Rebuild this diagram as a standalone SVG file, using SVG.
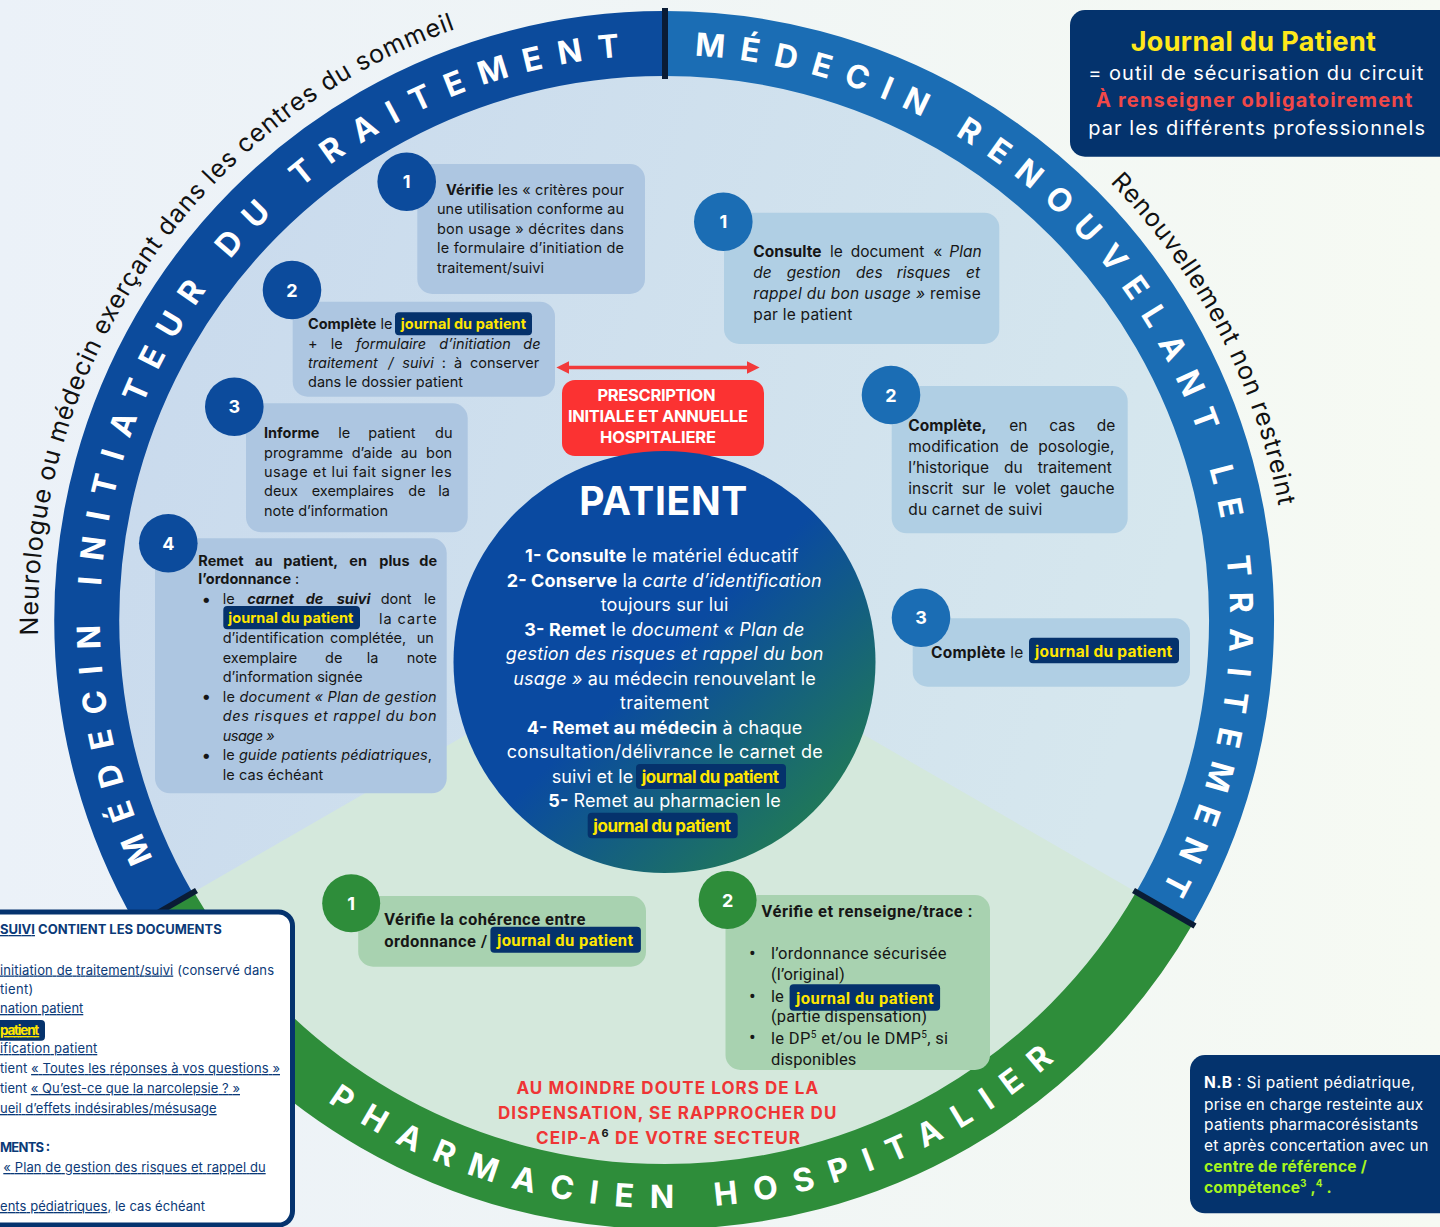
<svg xmlns="http://www.w3.org/2000/svg" width="1440" height="1227" viewBox="0 0 1440 1227">
<defs>
<linearGradient id="bgGrad" x1="0" y1="0" x2="1" y2="0">
<stop offset="0" stop-color="#ebf1f8"/><stop offset="1" stop-color="#f6faf3"/>
</linearGradient>
<linearGradient id="diskGrad" x1="0" y1="0" x2="1" y2="0.3">
<stop offset="0" stop-color="#c8d9ed"/><stop offset="1" stop-color="#d6e7ee"/>
</linearGradient>
<linearGradient id="patGrad" x1="0.3" y1="0.3" x2="0.92" y2="0.95">
<stop offset="0.3" stop-color="#0a4aa1"/><stop offset="1" stop-color="#24814b"/>
</linearGradient>
<marker id="ah" viewBox="0 0 10 10" refX="0" refY="5" markerWidth="3.6" markerHeight="4" orient="auto-start-reverse">
<path d="M0,0 L10,5 L0,10 z" fill="#f23a3a"/>
</marker>
<path id="pL" d="M 152.9 858.8 A 565 565 0 0 1 620.7 56.7"/>
<path id="pR" d="M 694.6 55.8 A 565 565 0 0 1 1161.5 889.6"/>
<path id="pB" d="M 327.7 1101.7 A 588 588 0 0 0 1054.6 1060.4"/>
<path id="pN" d="M 38.2 635.3 A 627 627 0 0 1 455.7 29"/>
<path id="pRn" d="M 1110 182.6 A 624 624 0 0 1 1278.6 506.3"/>
</defs>
<style>
.f{font-family:Inter,"Liberation Sans",Arial,sans-serif}
.r{font-family:Roboto,"Liberation Sans",Arial,sans-serif}
.b{font-weight:700}
.i{font-style:italic}
.u{text-decoration:underline}
.dk{fill:#161616}
.w{fill:#ffffff}
.y{fill:#ffe600;font-weight:700}
.pill{fill:#05326c}
.cl{fill:#adc6e1}
.cr{fill:#b0cfe4}
.cg{fill:#a8d2b0}
.bl{fill:#0c4b9c}
.br{fill:#1b6db4}
.bgc{fill:#2e8d3a}
.num{font-family:Inter,"Liberation Sans",Arial,sans-serif;font-weight:700;font-size:18px;fill:#fff;text-anchor:middle}
.s14{font-size:14.5px}
.s15{font-size:15.5px}
.ring{font-family:Inter,"Liberation Sans",Arial,sans-serif;font-weight:700;font-size:32px;fill:#fff}
.out{font-family:Inter,"Liberation Sans",Arial,sans-serif;font-size:25px;fill:#111}
.nv{fill:#0b3a78}
.sep{stroke:#0a1c35;stroke-width:6}
.bul{font-size:17px}
</style>

<rect x="0" y="0" width="1440" height="1227" fill="url(#bgGrad)"/>

<g id="disk">
<circle cx="665" cy="620" r="560" fill="url(#diskGrad)"/>
<path d="M 665 620 L 1150 900 A 560 560 0 0 1 180 900 Z" fill="#d4e8dc"/>
</g>

<g id="ring">
<path d="M 164.4 909 A 576.5 576.5 0 0 1 665 43.5" fill="none" stroke="#0c4b9c" stroke-width="65"/>
<path d="M 665 43.5 A 576.5 576.5 0 0 1 1164.3 908.3" fill="none" stroke="#1b6db4" stroke-width="65"/>
<path d="M 1164.3 908.3 A 576.5 576.5 0 0 1 165.7 908.3" fill="none" stroke="#2e8d3a" stroke-width="65"/>
<line class="sep" x1="665" y1="79" x2="665" y2="8"/>
<line class="sep" x1="196.5" y1="890.5" x2="135" y2="926"/>
<line class="sep" x1="1133.5" y1="890.5" x2="1195" y2="926"/>
<text class="ring"><textPath href="#pL" textLength="1089" lengthAdjust="spacing">MÉDECIN INITIATEUR DU TRAITEMENT</textPath></text>
<text class="ring"><textPath href="#pR" textLength="1138" lengthAdjust="spacing">MÉDECIN RENOUVELANT LE TRAITEMENT</textPath></text>
<text class="ring"><textPath href="#pB" textLength="785" lengthAdjust="spacing">PHARMACIEN HOSPITALIER</textPath></text>
</g>

<g id="outer-labels">
<text class="out"><textPath href="#pN" textLength="786" lengthAdjust="spacing">Neurologue ou médecin exerçant dans les centres du sommeil</textPath></text>
<text class="out"><textPath href="#pRn" textLength="370" lengthAdjust="spacing">Renouvellement non restreint</textPath></text>
</g>

<g id="connectors">
<line x1="569" y1="367.5" x2="747" y2="367.5" stroke="#f23a3a" stroke-width="3.5" marker-start="url(#ah)" marker-end="url(#ah)"/>
</g>

<g id="prescription">
<rect x="562" y="380" width="202" height="76" rx="13" fill="#fb3232"/>
<text class="f b w" font-size="16.5" x="597.5" y="400.7" textLength="118" lengthAdjust="spacing">PRESCRIPTION</text>
<text class="f b w" font-size="16.5" x="568" y="422.3" textLength="180" lengthAdjust="spacing">INITIALE ET ANNUELLE</text>
<text class="f b w" font-size="16.5" x="600" y="443.3" textLength="116" lengthAdjust="spacing">HOSPITALIERE</text>
</g>

<g id="init-1">
<rect class="cl" x="417.3" y="164" width="227.7" height="130" rx="15"/>
<circle class="bl" cx="406.7" cy="181.7" r="29.3"/>
<text class="num" x="406.7" y="188.2">1</text>
<g class="f s14 dk">
<text x="446" y="195" textLength="178" lengthAdjust="spacing"><tspan class="b">Vérifie</tspan> les « critères pour</text>
<text x="437" y="214.3" textLength="187" lengthAdjust="spacing">une utilisation conforme au</text>
<text x="437" y="234" textLength="187" lengthAdjust="spacing">bon usage » décrites dans</text>
<text x="437" y="253.3" textLength="187" lengthAdjust="spacing">le formulaire d’initiation de</text>
<text x="437" y="272.7" textLength="107" lengthAdjust="spacing">traitement/suivi</text>
</g>
</g>

<g id="init-2">
<rect class="cl" x="292.7" y="301.7" width="262.3" height="95" rx="15"/>
<circle class="bl" cx="292" cy="290" r="29.3"/>
<text class="num" x="292" y="296.5">2</text>
<g class="f s14 dk">
<text x="308" y="329"><tspan class="b">Complète</tspan> le</text>
<rect class="pill" x="395" y="312.3" width="137" height="23" rx="4"/>
<text class="y" x="400.7" y="329" textLength="125.3" lengthAdjust="spacing">journal du patient</text>
<text y="349"><tspan x="308">+</tspan><tspan x="330.7">le</tspan><tspan class="i" x="356">formulaire</tspan><tspan class="i" x="439.3">d’initiation</tspan><tspan class="i" x="523.3">de</tspan></text>
<text y="368.3"><tspan class="i" x="308">traitement</tspan><tspan class="i" x="388.3">/</tspan><tspan class="i" x="402.3">suivi</tspan><tspan x="441.7">:</tspan><tspan x="454">à</tspan><tspan x="470">conserver</tspan></text>
<text x="308" y="387" textLength="155" lengthAdjust="spacing">dans le dossier patient</text>
</g>
</g>

<g id="init-3">
<rect class="cl" x="246" y="403.3" width="221.7" height="129" rx="15"/>
<circle class="bl" cx="234.3" cy="406.7" r="29.3"/>
<text class="num" x="234.3" y="413.2">3</text>
<g class="f s14 dk">
<text y="438.3"><tspan class="b" x="264">Informe</tspan><tspan x="338.3">le</tspan><tspan x="368.3">patient</tspan><tspan x="435">du</tspan></text>
<text y="458.3"><tspan x="264">programme</tspan><tspan x="351.7">d’aide</tspan><tspan x="400.7">au</tspan><tspan x="426">bon</tspan></text>
<text x="264" y="477.3" textLength="187.7" lengthAdjust="spacing">usage et lui fait signer les</text>
<text y="496.3"><tspan x="264">deux</tspan><tspan x="311.7">exemplaires</tspan><tspan x="408.3">de</tspan><tspan x="438.3">la</tspan></text>
<text x="264" y="515.7" textLength="124" lengthAdjust="spacing">note d’information</text>
</g>
</g>

<g id="init-4">
<rect class="cl" x="155" y="538.3" width="291.7" height="255" rx="15"/>
<circle class="bl" cx="168.3" cy="543.3" r="29.3"/>
<text class="num" x="168.3" y="549.8">4</text>
<g class="f s14 dk">
<text class="b" y="565.7"><tspan x="198.3">Remet</tspan><tspan x="255">au</tspan><tspan x="283.3">patient,</tspan><tspan x="349.3">en</tspan><tspan x="379.3">plus</tspan><tspan x="419.3">de</tspan></text>
<text x="198.3" y="584.3" textLength="101" lengthAdjust="spacing"><tspan class="b">l’ordonnance</tspan> :</text>
<text class="bul" x="201.5" y="604.8">•</text>
<text y="604.3"><tspan x="222.7">le</tspan><tspan class="b i" x="247.3">carnet</tspan><tspan class="b i" x="305.7">de</tspan><tspan class="b i" x="336.7">suivi</tspan><tspan x="380.7">dont</tspan><tspan x="424">le</tspan></text>
<rect class="pill" x="223.3" y="606" width="136.7" height="23.3" rx="4"/>
<text class="y" x="228.3" y="623.2" textLength="125" lengthAdjust="spacing">journal du patient</text>
<text x="379" y="623.7" textLength="57.7" lengthAdjust="spacing">la carte</text>
<text y="643.3"><tspan x="222.7">d’identification</tspan><tspan x="330">complétée,</tspan><tspan x="416.7">un</tspan></text>
<text y="663"><tspan x="222.7">exemplaire</tspan><tspan x="325">de</tspan><tspan x="366.7">la</tspan><tspan x="406.7">note</tspan></text>
<text x="222.7" y="681.7" textLength="140" lengthAdjust="spacing">d’information signée</text>
<text class="bul" x="201.5" y="702.2">•</text>
<text x="222.7" y="701.7" textLength="214" lengthAdjust="spacing">le <tspan class="i">document « Plan de gestion</tspan></text>
<text class="i" x="222.7" y="721" textLength="214" lengthAdjust="spacing">des risques et rappel du bon</text>
<text class="i" x="222.7" y="741" textLength="52" lengthAdjust="spacing">usage »</text>
<text class="bul" x="201.5" y="760.8">•</text>
<text x="222.7" y="760.3" textLength="209.3" lengthAdjust="spacing">le <tspan class="i">guide patients pédiatriques</tspan>,</text>
<text x="222.7" y="780" textLength="100.6" lengthAdjust="spacing">le cas échéant</text>
</g>
</g>

<g id="renouv-1">
<rect class="cr" x="724" y="212.7" width="275.3" height="131.3" rx="15"/>
<circle class="br" cx="723.3" cy="221.7" r="29.3"/>
<text class="num" x="723.3" y="228.2">1</text>
<g class="f s15 dk">
<text y="256.5"><tspan class="b" x="753.3">Consulte</tspan><tspan x="830">le</tspan><tspan x="850.7">document</tspan><tspan x="933.3">«</tspan><tspan class="i" x="949.3">Plan</tspan></text>
<text class="i" y="277.5"><tspan x="753.3">de</tspan><tspan x="786.7">gestion</tspan><tspan x="856">des</tspan><tspan x="896.7">risques</tspan><tspan x="966">et</tspan></text>
<text x="753.3" y="298.5" textLength="227.4" lengthAdjust="spacing"><tspan class="i">rappel du bon usage »</tspan> remise</text>
<text x="753.3" y="320" textLength="99" lengthAdjust="spacing">par le patient</text>
</g>
</g>

<g id="renouv-2">
<rect class="cr" x="891.7" y="386" width="236" height="147.3" rx="15"/>
<circle class="br" cx="891" cy="395" r="29.3"/>
<text class="num" x="891" y="401.5">2</text>
<g class="f s15 dk">
<text y="430.5"><tspan class="b" x="908.3">Complète,</tspan><tspan x="1009.3">en</tspan><tspan x="1049.3">cas</tspan><tspan x="1096.7">de</tspan></text>
<text y="451.8"><tspan x="908.3">modification</tspan><tspan x="1010">de</tspan><tspan x="1038.3">posologie,</tspan></text>
<text y="473.1"><tspan x="908.3">l’historique</tspan><tspan x="1004">du</tspan><tspan x="1037.7">traitement</tspan></text>
<text y="494.1"><tspan x="908.3">inscrit</tspan><tspan x="961.7">sur</tspan><tspan x="993.3">le</tspan><tspan x="1015">volet</tspan><tspan x="1060">gauche</tspan></text>
<text x="908.3" y="515.1" textLength="134" lengthAdjust="spacing">du carnet de suivi</text>
</g>
</g>

<g id="renouv-3">
<rect class="cr" x="912.7" y="618.3" width="277.3" height="68.4" rx="15"/>
<circle class="br" cx="921" cy="617.7" r="29.3"/>
<text class="num" x="921" y="624.2">3</text>
<g class="f s15 dk">
<text x="931" y="657.5" textLength="92.3" lengthAdjust="spacing"><tspan class="b">Complète</tspan> le</text>
<rect class="pill" x="1029" y="637.7" width="150" height="25.6" rx="4"/>
<text class="y" x="1035" y="657" textLength="137.3" lengthAdjust="spacing">journal du patient</text>
</g>
</g>

<g id="patient">
<circle cx="664.5" cy="662" r="211" fill="url(#patGrad)"/>
<text class="f b w" font-size="39" x="579.3" y="515" textLength="168" lengthAdjust="spacing">PATIENT</text>
<g class="f w" font-size="18">
<text x="525" y="561.5" textLength="273.3" lengthAdjust="spacing"><tspan class="b">1- Consulte</tspan> le matériel éducatif</text>
<text x="506.7" y="586.5" textLength="315" lengthAdjust="spacing"><tspan class="b">2- Conserve</tspan> la <tspan class="i">carte d’identification</tspan></text>
<text x="600.7" y="610.5" textLength="127.6" lengthAdjust="spacing">toujours sur lui</text>
<text x="524.3" y="635.5" textLength="280" lengthAdjust="spacing"><tspan class="b">3- Remet</tspan> le <tspan class="i">document « Plan de</tspan></text>
<text class="i" x="505.7" y="660" textLength="317.6" lengthAdjust="spacing">gestion des risques et rappel du bon</text>
<text x="513.3" y="684.5" textLength="302.4" lengthAdjust="spacing"><tspan class="i">usage »</tspan> au médecin renouvelant le</text>
<text x="620" y="709" textLength="89" lengthAdjust="spacing">traitement</text>
<text x="526.7" y="734" textLength="275.6" lengthAdjust="spacing"><tspan class="b">4- Remet au médecin</tspan> à chaque</text>
<text x="506.7" y="758" textLength="316" lengthAdjust="spacing">consultation/délivrance le carnet de</text>
<text x="551.7" y="783" textLength="81.6" lengthAdjust="spacing">suivi et le</text>
<text x="548.3" y="807" textLength="232.4" lengthAdjust="spacing"><tspan class="b">5-</tspan> Remet au pharmacien le</text>
</g>
<rect class="pill" x="636" y="764" width="150" height="25" rx="4"/>
<text class="f y" font-size="17" x="641.7" y="782.5" textLength="137.3" lengthAdjust="spacing">journal du patient</text>
<rect class="pill" x="587.7" y="812.7" width="150" height="25.6" rx="4"/>
<text class="f y" font-size="17" x="593.3" y="831.5" textLength="137.7" lengthAdjust="spacing">journal du patient</text>
</g>

<g id="pharma-1">
<rect class="cg" x="358.2" y="896" width="287.8" height="70.7" rx="15"/>
<circle class="bgc" cx="351.2" cy="903.3" r="29"/>
<text class="num" x="351.2" y="909.8">1</text>
<g class="r b dk" font-size="16.5">
<text x="384.2" y="925" textLength="201.2" lengthAdjust="spacing">Vérifie la cohérence entre</text>
<text x="384.2" y="946.5" textLength="102.8" lengthAdjust="spacing">ordonnance /</text>
</g>
<rect class="pill" x="490.4" y="926.7" width="150.5" height="26" rx="4"/>
<text class="r y" font-size="16.5" x="497" y="946" textLength="136" lengthAdjust="spacing">journal du patient</text>
</g>

<g id="pharma-2">
<rect class="cg" x="725.5" y="895" width="264.5" height="175" rx="15"/>
<circle class="bgc" cx="727.6" cy="900" r="29"/>
<text class="num" x="727.6" y="906.5">2</text>
<g class="r dk" font-size="16.5">
<text class="b" x="761.5" y="916.5" textLength="211" lengthAdjust="spacing">Vérifie et renseigne/trace :</text>
<text x="749" y="959.5" font-size="20">•</text>
<text x="771" y="959" textLength="175.6" lengthAdjust="spacing">l’ordonnance sécurisée</text>
<text x="771" y="980" textLength="73.7" lengthAdjust="spacing">(l’original)</text>
<text x="749" y="1002.5" font-size="20">•</text>
<text x="771" y="1002">le</text>
<text x="771" y="1022" textLength="156" lengthAdjust="spacing">(partie dispensation)</text>
<text x="749" y="1044" font-size="20">•</text>
<text x="771" y="1043.5" textLength="177" lengthAdjust="spacing">le DP<tspan font-size="10" dy="-6">5</tspan><tspan dy="6"> et/ou le DMP</tspan><tspan font-size="10" dy="-6">5</tspan><tspan dy="6">, si</tspan></text>
<text x="771" y="1065" textLength="85.4" lengthAdjust="spacing">disponibles</text>
</g>
<rect class="pill" x="789.6" y="984.3" width="150.5" height="26.4" rx="4"/>
<text class="r y" font-size="16.5" x="796" y="1004" textLength="137.6" lengthAdjust="spacing">journal du patient</text>
</g>

<g id="alert">
<g class="f b" font-size="17" fill="#ef3535">
<text x="516.4" y="1093.5" textLength="301.8" lengthAdjust="spacing">AU MOINDRE DOUTE LORS DE LA</text>
<text x="498" y="1118.5" textLength="338.4" lengthAdjust="spacing">DISPENSATION, SE RAPPROCHER DU</text>
<text x="536" y="1143.5" textLength="264" lengthAdjust="spacing">CEIP-A<tspan font-size="11" dy="-7" fill="#1a1a1a">6</tspan><tspan dy="7"> DE VOTRE SECTEUR</tspan></text>
</g>
</g>

<g id="journal-box">
<rect x="1070" y="10" width="385" height="146.7" rx="15" fill="#04336d"/>
<text class="f b" font-size="27" fill="#ffe81a" x="1130.7" y="50.5" textLength="245.3" lengthAdjust="spacing">Journal du Patient</text>
<text class="f w" font-size="20" x="1088.3" y="79.5" textLength="335" lengthAdjust="spacing">= outil de sécurisation du circuit</text>
<text class="f b" font-size="20" fill="#f14848" x="1096" y="107" textLength="316.3" lengthAdjust="spacing">À renseigner obligatoirement</text>
<text class="f w" font-size="20" x="1088.3" y="134.5" textLength="336.7" lengthAdjust="spacing">par les différents professionnels</text>
</g>

<g id="nb-box">
<rect x="1190" y="1055" width="265" height="158.3" rx="15" fill="#04336d"/>
<g class="f w" font-size="15.5">
<text x="1204" y="1088" textLength="211" lengthAdjust="spacing"><tspan class="b">N.B</tspan> : Si patient pédiatrique,</text>
<text x="1204" y="1109.5" textLength="219.3" lengthAdjust="spacing">prise en charge resteinte aux</text>
<text x="1204" y="1129.5" textLength="214.3" lengthAdjust="spacing">patients pharmacorésistants</text>
<text x="1204" y="1151" textLength="224.3" lengthAdjust="spacing">et après concertation avec un</text>
<text class="b" fill="#a6f51e" x="1204" y="1172" textLength="162.7" lengthAdjust="spacing">centre de référence /</text>
<text class="b" fill="#a6f51e" x="1204" y="1193" textLength="127.7" lengthAdjust="spacing">compétence<tspan font-size="10" dy="-6">3</tspan><tspan dy="6"> ,</tspan><tspan font-size="10" dy="-6">4</tspan><tspan dy="6"> .</tspan></text>
</g>
</g>

<g id="carnet-box">
<rect x="-20" y="912" width="312.5" height="313" rx="14" fill="#ffffff" stroke="#05336e" stroke-width="5"/>
<g class="f nv" font-size="13">
<text class="b" x="0" y="934" textLength="221.7" lengthAdjust="spacing"><tspan class="u">SUIVI</tspan> CONTIENT LES DOCUMENTS</text>
<text x="0" y="974.5" textLength="274" lengthAdjust="spacing"><tspan class="u">initiation de traitement/suivi</tspan> (conservé dans</text>
<text x="0" y="994" textLength="33.3" lengthAdjust="spacing">tient)</text>
<text class="u" x="0" y="1013" textLength="83.3" lengthAdjust="spacing">nation patient</text>
<text class="u" x="0" y="1053" textLength="97.3" lengthAdjust="spacing">ification patient</text>
<text x="0" y="1073" textLength="280" lengthAdjust="spacing">tient <tspan class="u">« Toutes les réponses à vos questions »</tspan></text>
<text x="0" y="1093" textLength="240" lengthAdjust="spacing">tient <tspan class="u">« Qu’est-ce que la narcolepsie ? »</tspan></text>
<text class="u" x="0" y="1113" textLength="216.7" lengthAdjust="spacing">ueil d’effets indésirables/mésusage</text>
<text class="b" x="0" y="1152" textLength="50" lengthAdjust="spacing">MENTS :</text>
<text class="u" x="3.3" y="1172" textLength="262.4" lengthAdjust="spacing">« Plan de gestion des risques et rappel du</text>
<text x="0" y="1211" textLength="205" lengthAdjust="spacing"><tspan class="u">ents pédiatriques,</tspan> le cas échéant</text>
</g>
<rect class="pill" x="-10" y="1020" width="55" height="20.7" rx="4"/>
<text class="f y u" font-size="13.5" x="0" y="1035" textLength="39.3" lengthAdjust="spacing">patient</text>
</g>
</svg>
